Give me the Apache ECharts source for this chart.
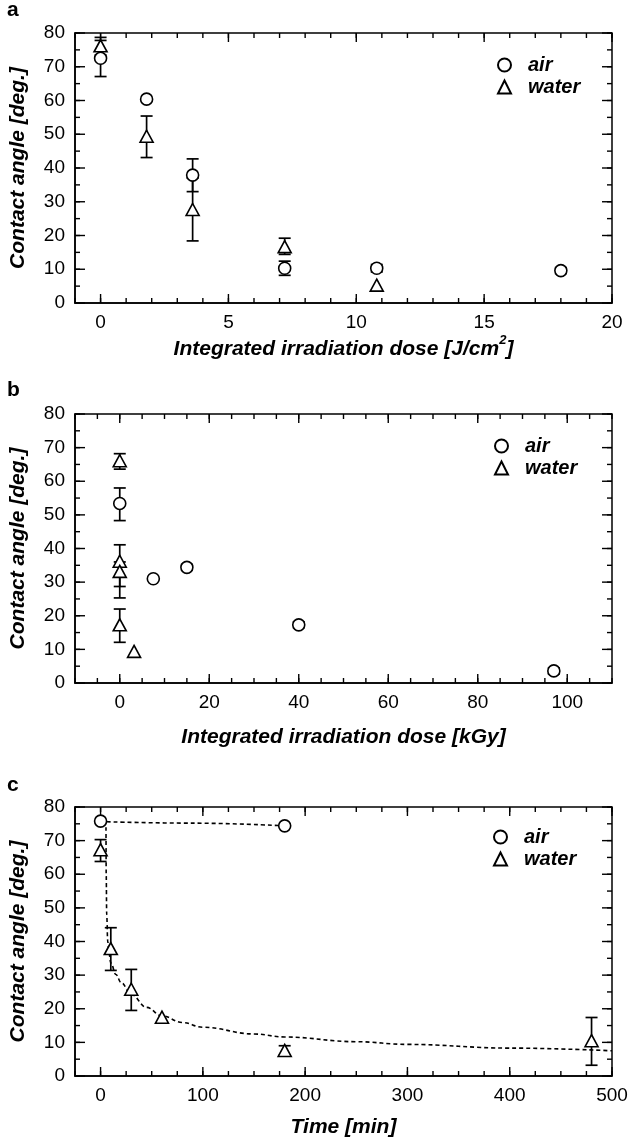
<!DOCTYPE html>
<html>
<head>
<meta charset="utf-8">
<title>Contact angle</title>
<script src="https://cdn.jsdelivr.net/npm/echarts@6.0.0/dist/echarts.min.js"></script>
<style>
  html, body { margin: 0; padding: 0; background: #fff; }
  #chart { width: 630px; height: 1140px; }
</style>
</head>
<body>
<div id="chart"></div>
<script>
// 数据：[x, 角度, 误差下限, 误差上限]（null = 无误差棒）
// a: 积分辐照剂量 [J/cm2]
const airA = [[0, 72.5, 67.1, 77.8], [1.8, 60.4, null, null], [3.6, 37.9, 33.0, 42.7],
  [7.2, 10.3, 8.2, 12.4], [10.8, 10.3, 9.2, 11.4], [18, 9.6, 8.7, 10.5]];
const waterA = [[0, 76.2, 73.5, 78.7], [1.8, 49.4, 43.1, 55.4], [3.6, 27.7, 18.4, 37.0],
  [7.2, 16.7, 14.4, 19.2], [10.8, 5.3, null, null]];

// b: 积分辐照剂量 [kGy]
const airB = [[0, 53.4, 48.3, 58.0], [7.5, 31.0, null, null], [15, 34.4, 33.5, 35.3],
  [40, 17.3, 16.4, 18.2], [97, 3.6, 2.7, 4.5]];
const waterB = [[0, 66.1, 63.6, 68.2], [0, 36.2, 28.7, 41.1], [0, 33.2, 25.3, 36.0],
  [0, 17.3, 12.1, 22.0], [3.2, 9.4, null, null]];

// c: 时间 [min]
const airC = [[0, 75.8, null, null], [180, 74.4, null, null]];
const waterC = [[0, 67.3, 63.8, 70.3], [10, 37.9, 31.4, 44.1], [30, 25.8, 19.5, 31.7],
  [60, 17.5, null, null], [180, 7.6, 6.2, 9.0], [480, 10.5, 3.2, 17.4]];

// 拟合曲线（虚线）
const airFitC = [[6, 75.6], [90, 75.2], [174, 74.5]];
const waterFitC = [[5.3, 74], [5.5, 60], [6, 48], [7, 40], [8.5, 36], [10, 33.6], [15, 30.2],
  [20, 27.8], [30, 24.2], [45, 20.4], [60, 17.9], [80, 15.9], [100, 14.5], [150, 12.5],
  [180, 11.6], [250, 10.2], [300, 9.4], [400, 8.3], [500, 7.5]];

// 刻度
const xTicksA = [0, 5, 10, 15, 20];
const xTicksB = [0, 20, 40, 60, 80, 100];
const xTicksC = [0, 100, 200, 300, 400, 500];
const yTicks = [0, 10, 20, 30, 40, 50, 60, 70, 80];

const FONT = '"Liberation Sans", Arial, Helvetica, sans-serif';

function range(a, b, step) {
  const out = [];
  for (let v = a; v <= b + 1e-9; v += step) out.push(+v.toFixed(6));
  return out;
}

const panels = [
  { top: 33, height: 270, xMin: -1, xMax: 20, xTicks: xTicksA, xMinor: range(-1, 20, 1),
    xName: 'Integrated irradiation dose [J/cm{sup|2}]', nameGap: 31, air: airA, water: waterA,
    label: 'a', labelTop: 0, legendTop: 55, legendLeft: 497 },
  { top: 414, height: 269, xMin: -10, xMax: 110, xTicks: xTicksB, xMinor: range(-10, 110, 5),
    xName: 'Integrated irradiation dose [kGy]', nameGap: 43, air: airB, water: waterB,
    label: 'b', labelTop: 380, legendTop: 436, legendLeft: 494 },
  { top: 807, height: 269, xMin: -25, xMax: 500, xTicks: xTicksC, xMinor: range(-25, 500, 25),
    xName: 'Time [min]', nameGap: 40, air: airC, water: waterC,
    label: 'c', labelTop: 775, legendTop: 827, legendLeft: 493 }
];

const lineStyle = { color: '#000', width: 1.5 };
const hidden = { show: false };

// 误差棒
function errorBars(data, axisIndex) {
  return {
    type: 'custom',
    name: 'err',
    xAxisIndex: axisIndex, yAxisIndex: axisIndex,
    silent: true, z: 1,
    data: data.filter(d => d[2] != null).map(d => [d[0], d[2], d[3]]),
    encode: { x: 0, y: [1, 2] },
    renderItem(params, api) {
      const lo = api.coord([api.value(0), api.value(1)]);
      const hi = api.coord([api.value(0), api.value(2)]);
      const w = 6;
      const style = { stroke: '#000', lineWidth: 1.7 };
      return {
        type: 'group',
        children: [
          { type: 'line', shape: { x1: lo[0], y1: lo[1], x2: hi[0], y2: hi[1] }, style },
          { type: 'line', shape: { x1: lo[0] - w, y1: lo[1], x2: lo[0] + w, y2: lo[1] }, style },
          { type: 'line', shape: { x1: hi[0] - w, y1: hi[1], x2: hi[0] + w, y2: hi[1] }, style }
        ]
      };
    }
  };
}

function markers(name, data, axisIndex) {
  const isAir = name === 'air';
  return {
    type: 'scatter',
    name,
    xAxisIndex: axisIndex, yAxisIndex: axisIndex,
    data: data.map(d => [d[0], d[1]]),
    symbol: isAir ? 'circle' : 'triangle',
    symbolSize: isAir ? 12 : [13, 12],
    itemStyle: { color: '#fff', borderColor: '#000', borderWidth: 1.6, opacity: 1 },
    emphasis: { disabled: true },
    z: 3
  };
}

function fitLine(data, axisIndex) {
  return {
    type: 'line', name: 'fit',
    xAxisIndex: axisIndex, yAxisIndex: axisIndex,
    data, showSymbol: false, symbol: 'none',
    smooth: 0.4, smoothMonotone: 'x',
    lineStyle: { color: '#000', width: 1.6, type: [4, 3] },
    silent: true, z: 2
  };
}

const grid = [], xAxis = [], yAxis = [], series = [], legend = [], labels = [];

panels.forEach((p, g) => {
  grid.push({ left: 75, top: p.top, width: 537, height: p.height, containLabel: false,
    outerBoundsMode: 'none', show: true, borderColor: '#000', borderWidth: 1.5,
    backgroundColor: 'transparent' });
  xAxis.push({
    type: 'value', gridIndex: g, min: p.xMin, max: p.xMax, position: 'bottom',
    splitLine: hidden, axisTick: hidden,
    axisLine: { show: true, onZero: false, lineStyle },
    name: p.xName, nameLocation: 'middle', nameGap: p.nameGap,
    nameTextStyle: {
      fontFamily: FONT, fontSize: 21, fontWeight: 'bold', fontStyle: 'italic', color: '#000',
      lineHeight: g === 0 ? 30 : 22,
      rich: { sup: { fontFamily: FONT, fontSize: 13, fontWeight: 'bold', fontStyle: 'italic',
        color: '#000', verticalAlign: 'top', lineHeight: 13 } }
    },
    axisLabel: { customValues: p.xTicks, fontFamily: FONT, fontSize: 19, color: '#000', margin: 10 }
  });
  yAxis.push({
    type: 'value', gridIndex: g, min: 0, max: 80, position: 'left',
    splitLine: hidden, axisTick: hidden,
    axisLine: { show: true, onZero: false, lineStyle },
    name: 'Contact angle [deg.]', nameLocation: 'middle', nameGap: 46,
    nameTextStyle: { fontFamily: FONT, fontSize: 21, fontWeight: 'bold', fontStyle: 'italic', color: '#000' },
    axisLabel: { customValues: yTicks, fontFamily: FONT, fontSize: 19, color: '#000', margin: 10 }
  });
  series.push(errorBars(p.air, g), errorBars(p.water, g));
  if (g === 2) series.push(fitLine(airFitC, g), fitLine(waterFitC, g));
  series.push(markers('air', p.air, g), markers('water', p.water, g));
  legend.push({
    data: ['air', 'water'], orient: 'vertical',
    left: p.legendLeft, top: p.legendTop, padding: 0,
    itemWidth: 13, itemHeight: 13, itemGap: 2,
    selectedMode: false,
    textStyle: { fontFamily: FONT, fontSize: 20, fontWeight: 'bold', fontStyle: 'italic', color: '#000',
      padding: [0, 0, 0, 12] }
  });
  labels.push({
    type: 'text', left: 7, top: p.labelTop,
    style: { text: p.label, fontFamily: FONT, fontSize: 21, fontWeight: 'bold', fill: '#000' }
  });
});

const chart = echarts.init(document.getElementById('chart'), null, { renderer: 'canvas' });
chart.setOption({
  animation: false,
  backgroundColor: '#fff',
  grid, xAxis, yAxis, series, legend,
  graphic: labels,
  tooltip: { show: false }
});

// 向内刻度（四边），位置由坐标轴比例尺换算
function buildTicks() {
  const out = [];
  const style = { stroke: '#000', lineWidth: 1.4 };
  const seg = (x1, y1, x2, y2) => out.push({ type: 'line', silent: true, z: 100,
    shape: { x1, y1, x2, y2 }, style });
  panels.forEach((p, g) => {
    const px = v => chart.convertToPixel({ gridIndex: g }, v);
    const xt = (v, len) => {
      const b = px([v, 0]);
      const t = px([v, 80]);
      seg(b[0], b[1], b[0], b[1] - len);
      seg(t[0], t[1], t[0], t[1] + len);
    };
    const yt = (v, len) => {
      const l = px([p.xMin, v]);
      const r = px([p.xMax, v]);
      seg(l[0], l[1], l[0] + len, l[1]);
      seg(r[0], r[1], r[0] - len, r[1]);
    };
    p.xMinor.forEach(v => xt(v, 5));
    p.xTicks.forEach(v => xt(v, 9));
    range(0, 80, 5).forEach(v => yt(v, 5));
    yTicks.forEach(v => yt(v, 10));
  });
  return out;
}

chart.setOption({ graphic: labels.concat(buildTicks()) }, { replaceMerge: ['graphic'] });
</script>
</body>
</html>
